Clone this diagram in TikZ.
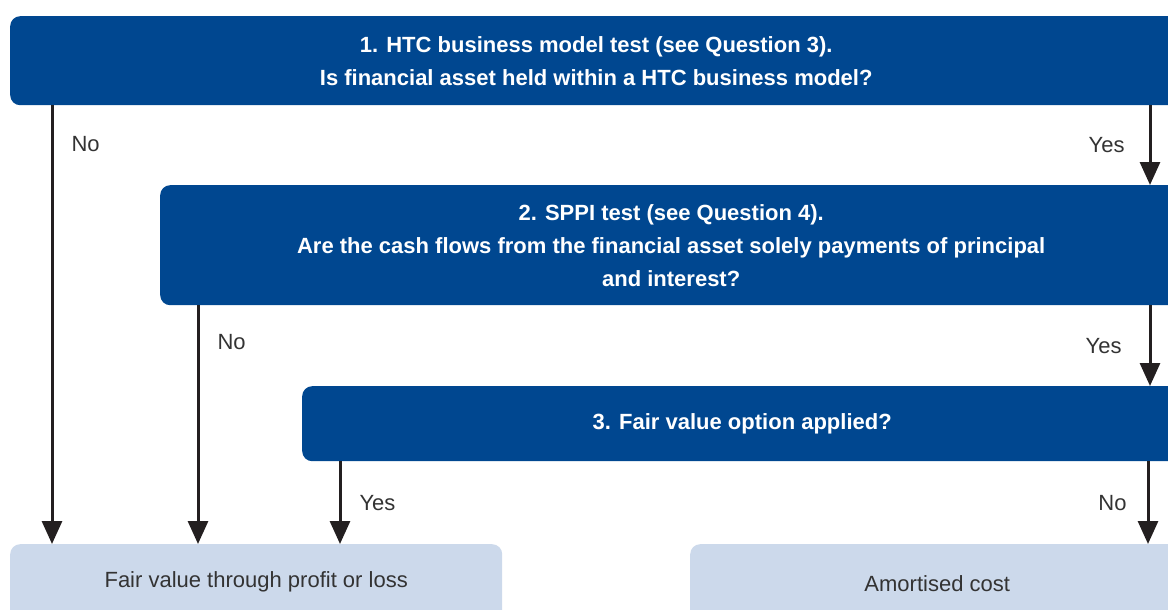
\documentclass[tikz,border=0pt]{standalone}
\usepackage{fontspec}
\setmainfont{Liberation Sans}
\usetikzlibrary{arrows.meta}
\definecolor{kblue}{RGB}{0,71,144}
\definecolor{klight}{RGB}{204,217,235}
\definecolor{karrow}{RGB}{35,31,32}
\definecolor{ktext}{RGB}{51,51,51}
\begin{document}
\begin{tikzpicture}[x=1pt,y=-1pt,
    question/.style={fill=kblue,text=white,rounded corners=10pt,anchor=north west,
      align=center,font=\fontsize{22}{33}\selectfont\bfseries,inner sep=0pt},
    result/.style={fill=klight,text=ktext,rounded corners=10pt,anchor=north west,
      align=center,font=\fontsize{22}{33}\selectfont,inner sep=0pt},
    arrow/.style={draw=karrow,line width=3pt,-{Triangle[length=23pt,width=20pt]}},
    lbl/.style={text=ktext,font=\fontsize{22}{26}\selectfont,inner sep=0pt}]
        \useasboundingbox (0,0) rectangle (1168,610);
        \clip (0,0) rectangle (1168,610);
        % decision boxes
        \node[question,minimum width=1172pt,minimum height=89pt] (htc) at (10,16)
          {1. HTC business model test (see Question 3).\\Is financial asset held within a HTC business model?};
        \node[question,minimum width=1022pt,minimum height=120pt] (sppi) at (160,185)
          {2. SPPI test (see Question 4).\\Are the cash flows from the financial asset solely payments of principal\\and interest?};
        \node[question,minimum width=880pt,minimum height=75pt] (fvo) at (302,386)
          {3. Fair value option applied?};
        % outcomes
        \node[result,minimum width=492pt,minimum height=76pt] (fvtpl) at (10,544)
          {Fair value through profit or loss};
        \node[result,minimum width=494pt,minimum height=78pt] (amort) at (690,544)
          {Amortised cost};
        % connectors
        \draw[arrow] (htc.south -| 52,0) -- (fvtpl.north -| 52,0)
          node[lbl,pos=0.087,right=18pt] (no1) {No};
        \draw[arrow] (htc.south -| 1150,0) -- (sppi.north -| 1150,0)
          node[lbl,midway,left=24pt] (yes1) {Yes};
        \draw[arrow] (sppi.south -| 198,0) -- (fvtpl.north -| 198,0)
          node[lbl,pos=0.155,right=18pt] (no2) {No};
        \draw[arrow] (sppi.south -| 1150,0) -- (fvo.north -| 1150,0)
          node[lbl,midway,left=27pt] (yes2) {Yes};
        \draw[arrow] (fvo.south -| 340,0) -- (fvtpl.north -| 340,0)
          node[lbl,midway,right=18pt] (yes3) {Yes};
        \draw[arrow] (fvo.south -| 1148,0) -- (amort.north -| 1148,0)
          node[lbl,midway,left=20pt] (no3) {No};
\end{tikzpicture}
\end{document}
